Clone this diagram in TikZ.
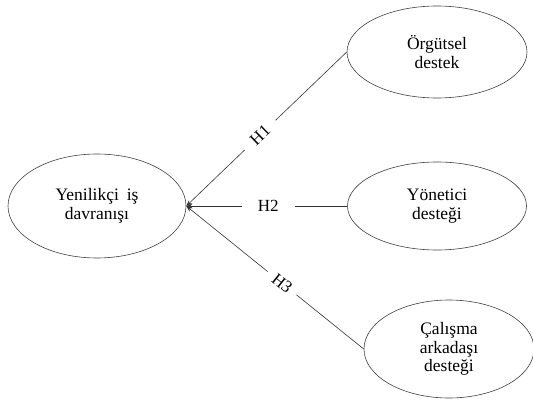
\documentclass[tikz,border=0pt]{standalone}
\usepackage{fontspec}
\setmainfont{Liberation Serif}
\usetikzlibrary{shapes.geometric,arrows.meta}
\begin{document}
\begin{tikzpicture}[x=1pt,y=-1pt,
  oval/.style={draw=black!75,line width=0.6pt,ellipse,inner sep=0pt,align=center,
    font=\fontsize{17.5}{18.5}\selectfont},
  link/.style={draw=black!80,line width=0.6pt,-{Stealth[length=6pt,width=4.5pt]}},
  hyp/.style={fill=white,sloped,inner xsep=11pt,inner ysep=0pt,font=\fontsize{17}{18}\selectfont}]
\useasboundingbox (0,0) rectangle (533,404);
\node[oval,minimum width=178pt,minimum height=104pt] (A) at (97,206) {Yenilikçi\hspace{0.45em}iş\\davranışı};
\node[oval,minimum width=180pt,minimum height=92pt] (B) at (437,52) {Örgütsel\\destek};
\node[oval,minimum width=179pt,minimum height=88pt] (C) at (437,206) {Yönetici\\desteği};
\node[oval,minimum width=170pt,minimum height=98pt] (D) at (449,349) {Çalışma\\arkadaşı\\desteği};
\draw[link] (B.west) -- node[hyp,pos=0.54] {H1} (A.east);
\draw[link] (C.west) -- node[hyp,pos=0.49,inner xsep=16pt] {H2} (A.east);
\draw[link] (D.west) -- node[hyp,pos=0.46,inner xsep=8pt] {H3} (A.east);
\end{tikzpicture}
\end{document}
